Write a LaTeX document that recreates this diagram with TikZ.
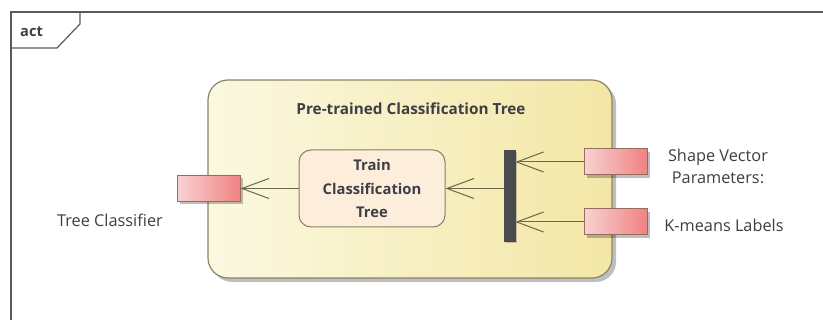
\documentclass[tikz,border=0pt]{standalone}
\usepackage{fontspec}
\setmainfont{Open Sans}
\usetikzlibrary{arrows.meta,shadows}

\definecolor{framec}{HTML}{5A5A5A}
\definecolor{txt}{HTML}{3E3E46}
\definecolor{regionL}{HTML}{FBF8E0}
\definecolor{regionR}{HTML}{F3E7A6}
\definecolor{regionB}{HTML}{8A8468}
\definecolor{actF}{HTML}{FCEEDB}
\definecolor{actB}{HTML}{8C7E64}
\definecolor{pinL}{HTML}{F8D2D2}
\definecolor{pinR}{HTML}{F08282}
\definecolor{pinB}{HTML}{9A6A5E}
\definecolor{flowc}{HTML}{6E6648}
\definecolor{barc}{HTML}{4B4B4F}

\tikzset{
  region/.style={draw=regionB, line width=1.2pt, rounded corners=20pt,
    left color=regionL, right color=regionR,
    drop shadow={shadow xshift=4pt, shadow yshift=-4pt, opacity=0.25, fill=black},
    minimum width=404pt, minimum height=198pt, inner sep=0pt},
  actbox/.style={draw=actB, line width=1pt, rounded corners=12pt, fill=actF,
    minimum width=146pt, minimum height=77pt, align=center, text=txt, inner sep=0pt,
    font=\fontsize{14.8}{23.5}\selectfont\bfseries},
  pinbox/.style={draw=pinB, line width=1pt, left color=pinL, right color=pinR,
    drop shadow={shadow xshift=3pt, shadow yshift=-3pt, opacity=0.25, fill=black},
    minimum width=63pt, minimum height=26pt, inner sep=0pt},
  forkbar/.style={fill=barc, draw=barc, minimum width=11pt, minimum height=91pt, inner sep=0pt,
    drop shadow={shadow xshift=2pt, shadow yshift=-2pt, opacity=0.2, fill=black}},
  flow/.style={draw=flowc, line width=1pt,
    -{Straight Barb[length=27pt, width=20pt, line width=1pt]}},
  lbl/.style={text=txt, font=\fontsize{16.3}{22}\selectfont, align=center, inner sep=0pt},
}

\begin{document}
\begin{tikzpicture}[x=1pt, y=-1pt]
  \useasboundingbox (0,0) rectangle (823,320);
  \fill[white] (0,0) rectangle (823,320);

  % activity frame and its name tab
  \draw[framec, line width=1.5pt] (11,320) -- (11,12) -- (823,12);
  \draw[framec, line width=1.2pt] (11,48) -- (57,48) -- (80,24) -- (80,12);
  \node[text=txt, font=\fontsize{14.6}{16}\selectfont\bfseries, anchor=base west, inner sep=0pt]
    (frameName) at (20,37) {act};

  % region containing the action
  \node[region] (region) at (410,179) {};
  \node[text=txt, font=\fontsize{15.3}{18}\selectfont\bfseries]
    (regionTitle) at (411,109) {Pre-trained Classification Tree};

  % action, fork bar and pins
  \node[actbox] (train) at (372,188.5) {Train\\Classification\\Tree};
  \node[forkbar] (bar) at (509.5,195.5) {};
  \node[pinbox] (pinOut) at (208.5,188.5) {};
  \node[pinbox] (pinShape) at (615.5,162) {};
  \node[pinbox] (pinKmeans) at (615.5,222) {};

  % pin labels
  \node[lbl] (lblOut) at (110,220) {Tree Classifier};
  \node[lbl] (lblShape) at (718,166) {Shape Vector\\Parameters:};
  \node[lbl] (lblKmeans) at (724,225) {K-means Labels};

  % object flows
  \draw[flow] (pinShape.west) -- (bar.east |- pinShape.west);
  \draw[flow] (pinKmeans.west) -- (bar.east |- pinKmeans.west);
  \draw[flow] (bar.west |- train.east) -- (train.east);
  \draw[flow] (train.west) -- (pinOut.east);
\end{tikzpicture}
\end{document}
